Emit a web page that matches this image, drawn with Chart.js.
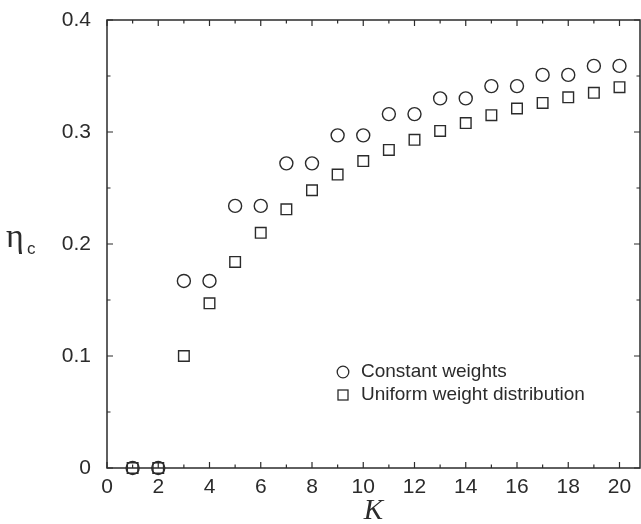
<!DOCTYPE html>
<html lang="en">
<head>
    <meta charset="UTF-8">
    <title>eta_c versus K</title>

    <!-- Chart.js Library -->
    <script src="https://cdn.jsdelivr.net/npm/chart.js"></script>

    <style>
        body {
            margin: 0;
            background: #fff;
        }

        .chart-box {
            width: 641px;
            height: 524px;
        }
    </style>
</head>

<body>
    <div class="chart-box">
        <canvas id="eta-chart"></canvas>
    </div>

    <script>
        // Data
        const kValues = [1, 2, 3, 4, 5, 6, 7, 8, 9, 10, 11, 12, 13, 14, 15, 16, 17, 18, 19, 20];
        const constantWeights = [0, 0, 0.167, 0.167, 0.234, 0.234, 0.272, 0.272, 0.297, 0.297,
                                 0.316, 0.316, 0.330, 0.330, 0.341, 0.341, 0.351, 0.351, 0.359, 0.359];
        const uniformWeights = [0, 0, 0.100, 0.147, 0.184, 0.210, 0.231, 0.248, 0.262, 0.274,
                                0.284, 0.293, 0.301, 0.308, 0.315, 0.321, 0.326, 0.331, 0.335, 0.340];
        const seriesLabels = ['Constant weights', 'Uniform weight distribution'];
        const xTicks = [0, 2, 4, 6, 8, 10, 12, 14, 16, 18, 20];
        const yTicks = [0, 0.1, 0.2, 0.3, 0.4];
        const xMax = 20.8; // the original figure is cut off just past K = 20

        const ink = '#2b2b2b';

        function toPoints(ys) {
            return kValues.map((k, i) => ({ x: k, y: ys[i] }));
        }

        // Frame with inward ticks on all four sides
        const framePlugin = {
            id: 'frame',
            beforeDatasetsDraw(chart) {
                const { ctx, chartArea: a, scales: { x, y } } = chart;
                ctx.save();
                ctx.strokeStyle = ink;
                ctx.lineWidth = 1.5;
                ctx.strokeRect(a.left, a.top, a.right - a.left, a.bottom - a.top);
                ctx.lineWidth = 1.2;
                ctx.beginPath();
                for (let v = 0; v <= 20; v++) {
                    const px = x.getPixelForValue(v);
                    const len = v % 2 === 0 ? 6 : 3.5;
                    ctx.moveTo(px, a.bottom); ctx.lineTo(px, a.bottom - len);
                    ctx.moveTo(px, a.top); ctx.lineTo(px, a.top + len);
                }
                for (let i = 0; i <= 8; i++) {
                    const py = y.getPixelForValue(i * 0.05);
                    const len = i % 2 === 0 ? 6 : 3.5;
                    ctx.moveTo(a.left, py); ctx.lineTo(a.left + len, py);
                    ctx.moveTo(a.right, py); ctx.lineTo(a.right - len, py);
                }
                ctx.stroke();
                ctx.restore();
            },
            afterDraw(chart) {
                const { ctx, chartArea: a } = chart;
                ctx.save();
                ctx.fillStyle = ink;

                // axis titles
                ctx.textAlign = 'center';
                ctx.textBaseline = 'middle';
                ctx.font = 'italic 29px "Liberation Serif"';
                ctx.fillText('K', (a.left + a.right) / 2, 511);

                ctx.textAlign = 'left';
                ctx.font = '34px "Liberation Serif"';
                ctx.fillText('η', 6, 238);
                ctx.font = '17px "Liberation Sans"';
                ctx.fillText('c', 27, 249);

                // legend
                const lx = 343;
                const rows = [372, 395];
                ctx.strokeStyle = ink;
                ctx.lineWidth = 1.3;
                ctx.beginPath();
                ctx.arc(lx, rows[0], 5.8, 0, Math.PI * 2);
                ctx.stroke();
                ctx.strokeRect(lx - 5, rows[1] - 5, 10, 10);
                ctx.font = '19px "Liberation Sans"';
                ctx.fillText(seriesLabels[0], 361, rows[0]);
                ctx.fillText(seriesLabels[1], 361, rows[1]);
                ctx.restore();
            }
        };

        const ctx = document.getElementById('eta-chart').getContext('2d');
        const etaChart = new Chart(ctx, {
            type: 'scatter',
            data: {
                datasets: [
                    {
                        label: seriesLabels[0],
                        data: toPoints(constantWeights),
                        pointStyle: 'circle',
                        pointRadius: 6.5,
                        pointBorderWidth: 1.4,
                        borderColor: ink,
                        backgroundColor: 'rgba(0,0,0,0)',
                        clip: false
                    },
                    {
                        label: seriesLabels[1],
                        data: toPoints(uniformWeights),
                        pointStyle: 'rect',
                        pointRadius: 7.5,
                        pointBorderWidth: 1.4,
                        borderColor: ink,
                        backgroundColor: 'rgba(0,0,0,0)',
                        clip: false
                    }
                ]
            },
            options: {
                responsive: true,
                maintainAspectRatio: false,
                animation: false,
                layout: { autoPadding: false, padding: { top: 20, right: 1, left: 0, bottom: 0 } },
                plugins: {
                    legend: { display: false },
                    tooltip: { enabled: false }
                },
                scales: {
                    x: {
                        type: 'linear',
                        min: 0,
                        max: xMax,
                        grid: { display: false, drawTicks: false },
                        border: { display: false },
                        // blank tick at the right edge so no room is kept for a label there
                        afterBuildTicks: s => {
                            s.ticks = xTicks.map(v => ({ value: v })).concat([{ value: xMax }]);
                        },
                        afterFit: s => { s.height = 56; s.paddingLeft = 0; s.paddingRight = 0; },
                        ticks: {
                            padding: 7,
                            maxRotation: 0,
                            autoSkip: false,
                            color: ink,
                            font: { family: '"Liberation Sans"', size: 21 },
                            callback: v => (v === xMax ? '' : v)
                        }
                    },
                    y: {
                        type: 'linear',
                        min: 0,
                        max: 0.4,
                        grid: { display: false, drawTicks: false },
                        border: { display: false },
                        afterBuildTicks: s => { s.ticks = yTicks.map(v => ({ value: v })); },
                        afterFit: s => { s.width = 107; s.paddingTop = 0; s.paddingBottom = 0; },
                        ticks: {
                            padding: 16,
                            color: ink,
                            font: { family: '"Liberation Sans"', size: 21 }
                        }
                    }
                }
            },
            plugins: [framePlugin]
        });
    </script>
</body>
</html>
